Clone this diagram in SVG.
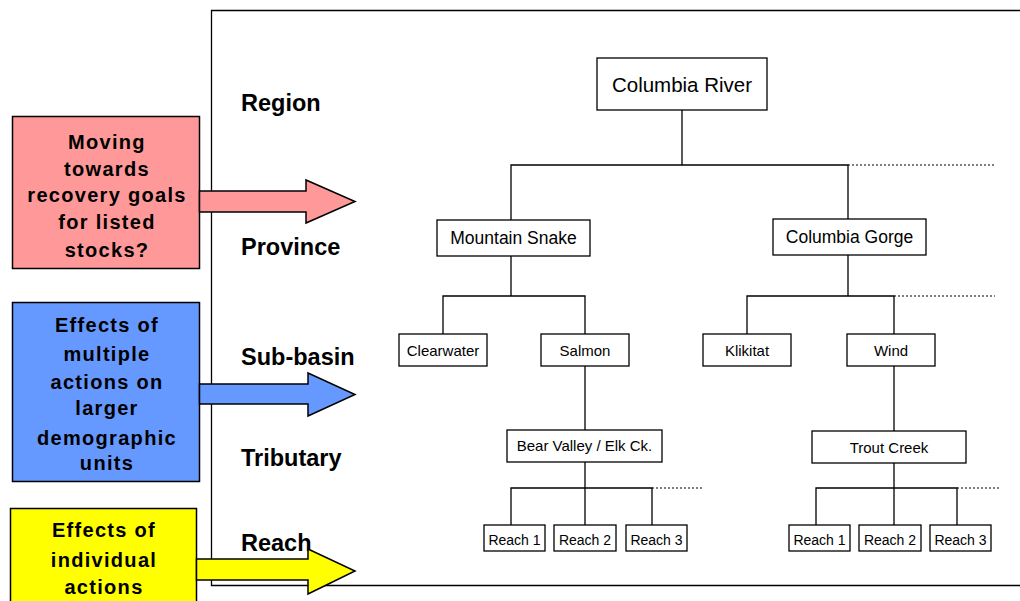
<svg xmlns="http://www.w3.org/2000/svg" width="1020" height="601" viewBox="0 0 1020 601">
<style>
.bg{fill:#fff}
.frame{fill:none;stroke:#000;stroke-width:1.3}
.node rect{fill:#fff;stroke:#000;stroke-width:1.3}
.node text{font-family:"Liberation Sans",Arial,sans-serif;fill:#000;text-anchor:middle}
.conn path{fill:none;stroke:#000;stroke-width:1.3}
.conn .dot{stroke-width:1.2;stroke-dasharray:2 2}
.lvl{font-family:"Liberation Sans",Arial,sans-serif;font-weight:bold;font-size:23.5px;fill:#000}
.goal text{font-family:"Liberation Sans",Arial,sans-serif;font-weight:bold;font-size:20px;letter-spacing:1.3px;text-anchor:middle;fill:#000}
.goal rect,.goal polygon{stroke:#000;stroke-width:1.5}
</style>
<rect class="bg" width="1020" height="601"/>
<g id="frame"><path class="frame" d="M1020,10.5 H211.5 V585.5 H1020"/></g>
<g id="levels">
<text class="lvl" x="241" y="111">Region</text>
<text class="lvl" x="241" y="255">Province</text>
<text class="lvl" x="241" y="365">Sub-basin</text>
<text class="lvl" x="241" y="466">Tributary</text>
<text class="lvl" x="241" y="551">Reach</text>
</g>
<g id="connectors" class="conn">
<path d="M682,110 V165 M511,220 V165 H848 V220"/>
<path class="dot" d="M848,165 H995"/>
<path d="M511,256 V296 M443,334 V296 H585 V334"/>
<path d="M848,255 V296 M747,334 V296 H894 V334"/>
<path class="dot" d="M894,296 H995"/>
<path d="M585,366 V430"/>
<path d="M894,366 V431"/>
<path d="M585,462 V525 M511,525 V488 H652 V525"/>
<path class="dot" d="M652,488 H703"/>
<path d="M894,463 V525 M816,525 V488 H957 V525"/>
<path class="dot" d="M957,488 H1000"/>
</g>
<g id="n-columbia-river" class="node"><rect x="597" y="58" width="170" height="52"/><text x="682" y="92" font-size="20.5">Columbia River</text></g>
<g id="n-mountain-snake" class="node"><rect x="437" y="220" width="153" height="36"/><text x="513.5" y="244" font-size="17.5">Mountain Snake</text></g>
<g id="n-columbia-gorge" class="node"><rect x="773" y="219" width="153" height="36"/><text x="849.5" y="243" font-size="17.5">Columbia Gorge</text></g>
<g id="n-clearwater" class="node"><rect x="399" y="334" width="88" height="32"/><text x="443" y="356" font-size="15">Clearwater</text></g>
<g id="n-salmon" class="node"><rect x="541" y="334" width="88" height="32"/><text x="585" y="356" font-size="15">Salmon</text></g>
<g id="n-klikitat" class="node"><rect x="703" y="334" width="88" height="32"/><text x="747" y="356" font-size="15">Klikitat</text></g>
<g id="n-wind" class="node"><rect x="847" y="334" width="88" height="32"/><text x="891" y="356" font-size="15">Wind</text></g>
<g id="n-bear-valley" class="node"><rect x="507" y="430" width="155" height="32"/><text x="584.5" y="451" font-size="15">Bear Valley / Elk Ck.</text></g>
<g id="n-trout-creek" class="node"><rect x="812" y="431" width="154" height="32"/><text x="889" y="453" font-size="15">Trout Creek</text></g>
<g id="n-reach1-a" class="node"><rect x="484" y="525" width="61" height="26"/><text x="514.5" y="545" font-size="14">Reach 1</text></g>
<g id="n-reach2-a" class="node"><rect x="554" y="525" width="62" height="26"/><text x="585" y="545" font-size="14">Reach 2</text></g>
<g id="n-reach3-a" class="node"><rect x="626" y="525" width="61" height="26"/><text x="656.5" y="545" font-size="14">Reach 3</text></g>
<g id="n-reach1-b" class="node"><rect x="789" y="525" width="61" height="26"/><text x="819.5" y="545" font-size="14">Reach 1</text></g>
<g id="n-reach2-b" class="node"><rect x="859" y="525" width="62" height="26"/><text x="890" y="545" font-size="14">Reach 2</text></g>
<g id="n-reach3-b" class="node"><rect x="930" y="525" width="61" height="26"/><text x="960.5" y="545" font-size="14">Reach 3</text></g>
<g id="g-recovery" class="goal">
<rect x="12.5" y="116.5" width="187" height="152" fill="#FF9999"/>
<polygon points="199.5,191 306,191 306,180 355,201.5 306,223 306,212 199.5,212" fill="#FF9999"/>
<text x="107" y="149">Moving</text>
<text x="107" y="176">towards</text>
<text x="107" y="202">recovery goals</text>
<text x="107" y="229">for listed</text>
<text x="107" y="257">stocks?</text>
</g>
<g id="g-multiple" class="goal">
<rect x="12.5" y="302.5" width="187" height="179" fill="#6699FF"/>
<polygon points="199.5,384 308,384 308,373 355,394.5 308,416 308,404 199.5,404" fill="#6699FF"/>
<text x="107" y="332">Effects of</text>
<text x="107" y="361">multiple</text>
<text x="107" y="389">actions on</text>
<text x="107" y="415">larger</text>
<text x="107" y="445">demographic</text>
<text x="107" y="470">units</text>
</g>
<g id="g-individual" class="goal">
<rect x="10.5" y="508.5" width="186" height="100" fill="#FFFF00"/>
<polygon points="196.5,559 308,559 308,549 355,571 308,594 308,580 196.5,580" fill="#FFFF00"/>
<text x="104" y="537">Effects of</text>
<text x="104" y="567">individual</text>
<text x="104" y="594">actions</text>
</g>
</svg>
